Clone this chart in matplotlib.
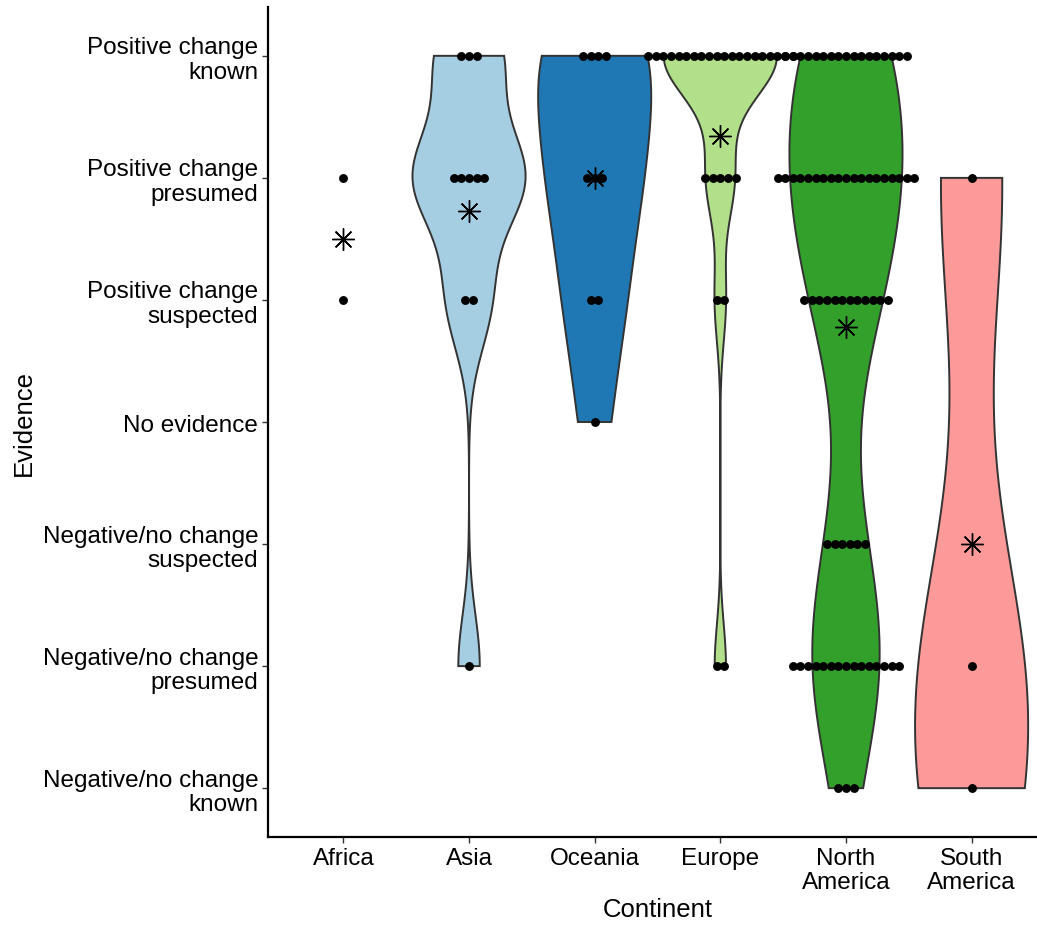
import numpy as np
import matplotlib
matplotlib.use("Agg")
import matplotlib.pyplot as plt

# ---------------- data ----------------
continents = ["Africa", "Asia", "Oceania", "Europe", "North\nAmerica", "South\nAmerica"]
evidence_levels = [
    "Negative/no change\nknown",
    "Negative/no change\npresumed",
    "Negative/no change\nsuspected",
    "No evidence",
    "Positive change\nsuspected",
    "Positive change\npresumed",
    "Positive change\nknown",
]
# number of studies per evidence level (ordered as evidence_levels)
africa_counts   = [0, 0, 0, 0, 1, 1, 0]
asia_counts     = [0, 1, 0, 0, 2, 5, 3]
oceania_counts  = [0, 0, 0, 1, 2, 3, 4]
europe_counts   = [0, 2, 0, 0, 2, 5, 20]
namerica_counts = [3, 15, 6, 0, 12, 19, 17]
samerica_counts = [1, 1, 0, 0, 0, 1, 0]
all_counts = [africa_counts, asia_counts, oceania_counts, europe_counts,
              namerica_counts, samerica_counts]
colors = [None, "#A6CEE3", "#1F78B4", "#B2DF8A", "#33A02C", "#FB9A99"]
draw_violin = [False, True, True, True, True, True]

# ---------------- helpers ----------------
def bw_nrd0(x):
    x = np.asarray(x, float)
    hi = np.std(x, ddof=1)
    q75, q25 = np.percentile(x, [75, 25])
    lo = min(hi, (q75 - q25) / 1.34)
    if not lo:
        lo = hi or abs(x[0]) or 1.0
    return 0.9 * lo * len(x) ** (-0.2)

def kde(x, grid):
    bw = bw_nrd0(x)
    d = np.exp(-0.5 * ((grid[:, None] - x[None, :]) / bw) ** 2).sum(axis=1)
    return d / (len(x) * bw * np.sqrt(2 * np.pi))

W, H = 1037, 929
fig = plt.figure(figsize=(W / 100, H / 100), dpi=100)
plt.rcParams['font.family'] = ['Liberation Sans', 'DejaVu Sans']
ax_left, ax_bottom = 268 / W, 1 - 838 / H
ax_w = (1047 - 268) / W
ax_h = (838 - 8) / H
ax = fig.add_axes([ax_left, ax_bottom, ax_w, ax_h])

spacing = 0.0605
for i, counts in enumerate(all_counts):
    xpos = i + 1
    obs = np.repeat(np.arange(1, 8), counts).astype(float)
    if draw_violin[i] and len(obs) > 1:
        grid = np.linspace(obs.min(), obs.max(), 512)
        dens = kde(obs, grid)
        half = dens / dens.max() * 0.45
        xs = np.concatenate([xpos - half, (xpos + half)[::-1]])
        ys = np.concatenate([grid, grid[::-1]])
        ax.fill(xs, ys, facecolor=colors[i], edgecolor="#333333", linewidth=1.4, zorder=2)
    # dots in centred rows
    for lvl, n in enumerate(counts, start=1):
        if n == 0:
            continue
        offs = (np.arange(n) - (n - 1) / 2) * spacing
        ax.plot(xpos + offs, np.full(n, lvl), 'o', color='black', markersize=6.4,
                markeredgewidth=0, zorder=3)
    mean = obs.mean()
    ax.plot([xpos], [mean], marker=(8, 2, 0), color='black', markersize=16,
            markeredgewidth=1.0, linestyle='none', zorder=4)

ax.set_xlim(0.4, 6.6)
ax.set_ylim(0.6, 7.4)
ax.set_xticks(range(1, 7))
ax.set_xticklabels(continents, fontsize=17.5, color='black', linespacing=1.15)
ax.set_yticks(range(1, 8))
ax.set_yticklabels(evidence_levels, fontsize=17.5, color='black', linespacing=1.15, ha='right')
for lab in ax.get_xticklabels():
    lab.set_multialignment('center')
for lab in ax.get_yticklabels():
    lab.set_multialignment('right')
ax.tick_params(axis='both', length=4, width=1, color='#333333', pad=3)
ax.spines['top'].set_visible(False)
ax.spines['right'].set_visible(False)
ax.spines['left'].set_linewidth(1.6)
ax.spines['bottom'].set_linewidth(1.6)
ax.set_xlabel("Continent", fontsize=18.5, labelpad=3)
ax.set_ylabel("Evidence", fontsize=18.5, labelpad=5)
ax.set_facecolor('white')

fig.savefig("out.png", dpi=100)
